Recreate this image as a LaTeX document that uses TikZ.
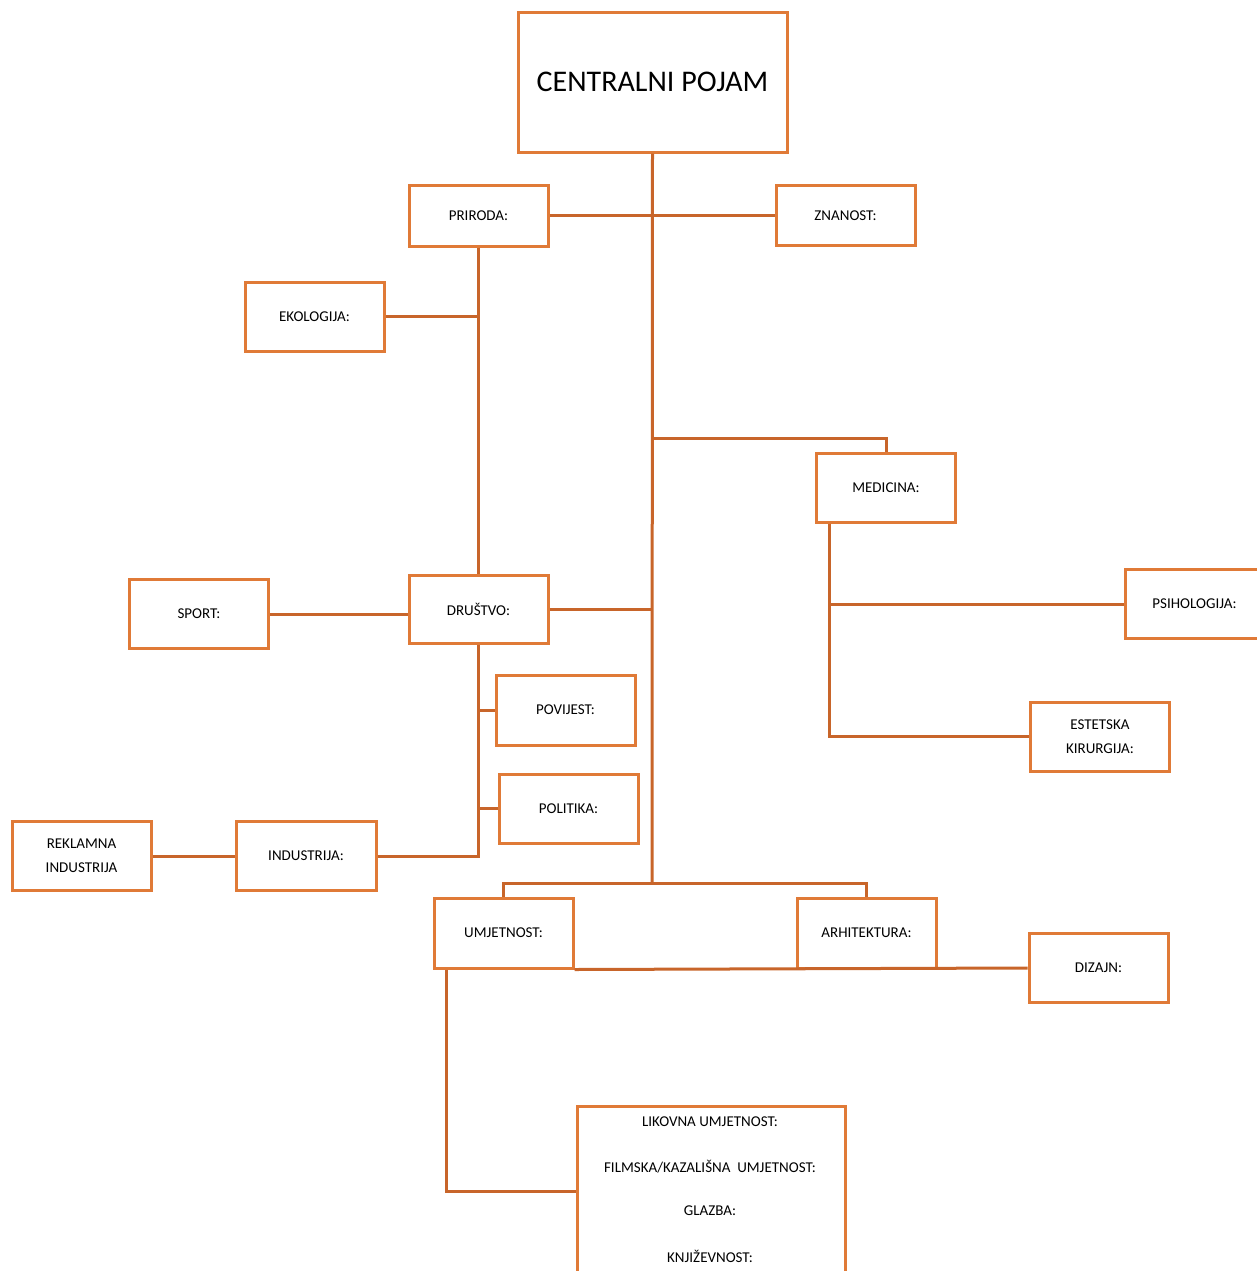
\documentclass[tikz,border=0pt]{standalone}
\usepackage{fontspec}
\setmainfont{Carlito}
\definecolor{okvir}{RGB}{224,122,55}
\definecolor{linija}{RGB}{200,101,42}

\begin{document}
\begin{tikzpicture}[x=0.5pt,y=-0.5pt,
  box/.style={draw=okvir,line width=1.5pt,fill=white,minimum width=69.5pt,minimum height=34.5pt,inner sep=0pt,align=center,font=\fontsize{7.5}{12}\selectfont},
  txt/.style={font=\fontsize{7.5}{12}\selectfont},
  veza/.style={draw=linija,line width=1.5pt}]

\useasboundingbox (0,0) rectangle (1257,1271);
\clip (0,0) rectangle (1257,1271);

\node[box,minimum width=134.5pt,minimum height=70pt,font=\fontsize{15}{17}\selectfont] (central) at (652.5,82) {CENTRALNI POJAM};

\node[box,minimum height=30.5pt] (priroda) at (478.5,215.5) {PRIRODA:};

\node[box,minimum height=30pt] (znanost) at (845.5,215.5) {ZNANOST:};

\node[box] (ekologija) at (314.5,316.5) {EKOLOGIJA:};

\node[box] (medicina) at (886,487.5) {MEDICINA:};

\node[box] (sport) at (199,614) {SPORT:};

\node[box,minimum height=34pt] (drustvo) at (478.5,609) {DRUŠTVO:};

\node[box] (psihologija) at (1194.5,604) {PSIHOLOGIJA:};

\node[box,minimum height=35pt] (povijest) at (565.5,710) {POVIJEST:};

\node[box] (estetska) at (1100,736.5) {ESTETSKA\\KIRURGIJA:};

\node[box] (politika) at (568.5,808.5) {POLITIKA:};

\node[box] (reklamna) at (81.5,856) {REKLAMNA\\INDUSTRIJA};

\node[box,minimum width=70pt] (industrija) at (306,856) {INDUSTRIJA:};

\node[box,minimum height=35pt] (umjetnost) at (503.5,933) {UMJETNOST:};

\node[box,minimum height=35pt] (arhitektura) at (866.5,933) {ARHITEKTURA:};

\node[box] (dizajn) at (1098.5,968) {DIZAJN:};

\node[box,minimum width=134pt,minimum height=85pt] (lista) at (711,1191) {};
\node[txt] (likovna) at (710,1122) {LIKOVNA UMJETNOST:};
\node[txt] (filmska) at (710,1167) {FILMSKA/KAZALIŠNA\ \ UMJETNOST:};
\node[txt] (glazba) at (710,1211) {GLAZBA:};
\node[txt] (knjizevnost) at (710,1256) {KNJIŽEVNOST:};

\coordinate (c1) at (652,883);
\coordinate (m1) at (652,438);
\coordinate (m2) at ([xshift=7pt]medicina.south west);
\coordinate (u1) at ([xshift=7pt]umjetnost.south west);

\draw[veza] (central.south) -- (c1);
\draw[veza] (priroda.east) -- (znanost.west);
\draw[veza] (priroda.south) -- (drustvo.north);
\draw[veza] (ekologija.east) -- (ekologija.east -| priroda.south);
\draw[veza] (m1) -| (medicina.north);
\draw[veza] (m2) |- (estetska.west);
\draw[veza] (psihologija.west) -- (psihologija.west -| m2);
\draw[veza] (drustvo.east) -- (drustvo.east -| c1);
\draw[veza] (sport.east) -- (sport.east -| drustvo.west);
\draw[veza] (drustvo.south) |- (industrija.east);
\draw[veza] (povijest.west) -- (povijest.west -| drustvo.south);
\draw[veza] (politika.west) -- (politika.west -| drustvo.south);
\draw[veza] (reklamna.east) -- (industrija.west);
\draw[veza] (umjetnost.north) |- (c1) -| (arhitektura.north);
\draw[veza] (umjetnost.south east) -- (dizajn.west);
\draw[veza] (u1) |- (lista.west);
\end{tikzpicture}
\end{document}
